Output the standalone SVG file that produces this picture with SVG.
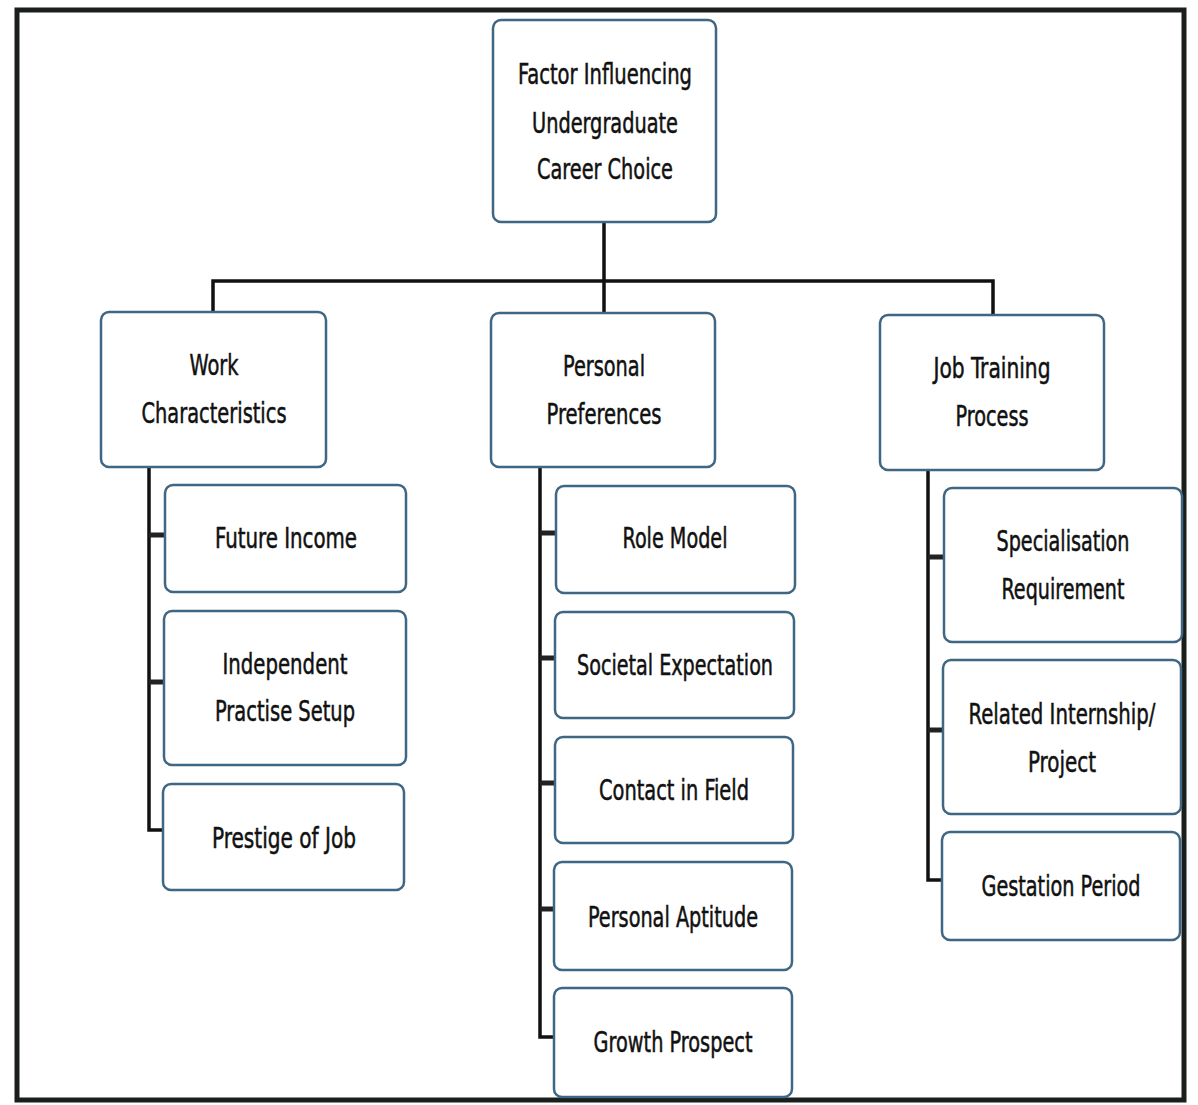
<svg xmlns="http://www.w3.org/2000/svg" width="1198" height="1105" viewBox="0 0 1198 1105">
<style>
.n rect{fill:#fff;stroke:#3f6683;stroke-width:2.5}
.n text{font-family:"DejaVu Sans Condensed","DejaVu Sans",sans-serif;font-size:28px;fill:#111;stroke:#111;stroke-width:0.5;text-anchor:middle;dominant-baseline:central}
.c{fill:none;stroke:#111;stroke-width:3.5}
.t{fill:none;stroke:#222;stroke-width:5}
</style>
<rect x="0" y="0" width="1198" height="1105" fill="#fff"/>
<rect x="17" y="10" width="1167" height="1090" fill="none" stroke="#1a1f1c" stroke-width="5"/>
<g id="connectors">
<path class="c" d="M604 222V281M213 312V281H993V315M604 281V313"/>
<path class="c" d="M149 467V830H165"/>
<path class="t" d="M149 535H165M149 682H164"/>
<path class="c" d="M540 467V1037H555"/>
<path class="t" d="M540 533H556M540 658H555M540 783H555M540 909H554"/>
<path class="c" d="M928 470V880H942"/>
<path class="t" d="M928 557H944M928 730H943"/>
</g>
<g id="root" class="n"><rect x="493" y="20" width="223" height="202" rx="8"/>
<text x="605" y="74" textLength="174" lengthAdjust="spacingAndGlyphs">Factor Influencing</text>
<text x="605" y="123" textLength="146" lengthAdjust="spacingAndGlyphs">Undergraduate</text>
<text x="605" y="169" textLength="136" lengthAdjust="spacingAndGlyphs">Career Choice</text></g>
<g id="work" class="n"><rect x="101" y="312" width="225" height="155" rx="8"/>
<text x="214" y="365" textLength="49" lengthAdjust="spacingAndGlyphs">Work</text>
<text x="214" y="413" textLength="145" lengthAdjust="spacingAndGlyphs">Characteristics</text></g>
<g id="personal" class="n"><rect x="491" y="313" width="224" height="154" rx="8"/>
<text x="604" y="366" textLength="82" lengthAdjust="spacingAndGlyphs">Personal</text>
<text x="604" y="414" textLength="115" lengthAdjust="spacingAndGlyphs">Preferences</text></g>
<g id="job" class="n"><rect x="880" y="315" width="224" height="155" rx="8"/>
<text x="992" y="368" textLength="117" lengthAdjust="spacingAndGlyphs">Job Training</text>
<text x="992" y="416" textLength="73" lengthAdjust="spacingAndGlyphs">Process</text></g>
<g id="future" class="n"><rect x="165" y="485" width="241" height="107" rx="8"/>
<text x="286" y="538" textLength="142" lengthAdjust="spacingAndGlyphs">Future Income</text></g>
<g id="independent" class="n"><rect x="164" y="611" width="242" height="154" rx="8"/>
<text x="285" y="664" textLength="125" lengthAdjust="spacingAndGlyphs">Independent</text>
<text x="285" y="711" textLength="140" lengthAdjust="spacingAndGlyphs">Practise Setup</text></g>
<g id="prestige" class="n"><rect x="163" y="784" width="241" height="106" rx="8"/>
<text x="284" y="838" textLength="144" lengthAdjust="spacingAndGlyphs">Prestige of Job</text></g>
<g id="role" class="n"><rect x="556" y="486" width="239" height="107" rx="8"/>
<text x="675" y="538" textLength="105" lengthAdjust="spacingAndGlyphs">Role Model</text></g>
<g id="societal" class="n"><rect x="555" y="612" width="239" height="106" rx="8"/>
<text x="675" y="665" textLength="196" lengthAdjust="spacingAndGlyphs">Societal Expectation</text></g>
<g id="contact" class="n"><rect x="555" y="737" width="238" height="106" rx="8"/>
<text x="674" y="790" textLength="150" lengthAdjust="spacingAndGlyphs">Contact in Field</text></g>
<g id="aptitude" class="n"><rect x="554" y="862" width="238" height="108" rx="8"/>
<text x="673" y="917" textLength="170" lengthAdjust="spacingAndGlyphs">Personal Aptitude</text></g>
<g id="growth" class="n"><rect x="554" y="988" width="238" height="109" rx="8"/>
<text x="673" y="1042" textLength="159" lengthAdjust="spacingAndGlyphs">Growth Prospect</text></g>
<g id="special" class="n"><rect x="944" y="488" width="238" height="154" rx="8"/>
<text x="1063" y="541" textLength="133" lengthAdjust="spacingAndGlyphs">Specialisation</text>
<text x="1063" y="589" textLength="123" lengthAdjust="spacingAndGlyphs">Requirement</text></g>
<g id="internship" class="n"><rect x="943" y="660" width="238" height="154" rx="8"/>
<text x="1062" y="714" textLength="187" lengthAdjust="spacingAndGlyphs">Related Internship/</text>
<text x="1062" y="762" textLength="68" lengthAdjust="spacingAndGlyphs">Project</text></g>
<g id="gestation" class="n"><rect x="942" y="832" width="238" height="108" rx="8"/>
<text x="1061" y="886" textLength="159" lengthAdjust="spacingAndGlyphs">Gestation Period</text></g>
</svg>
